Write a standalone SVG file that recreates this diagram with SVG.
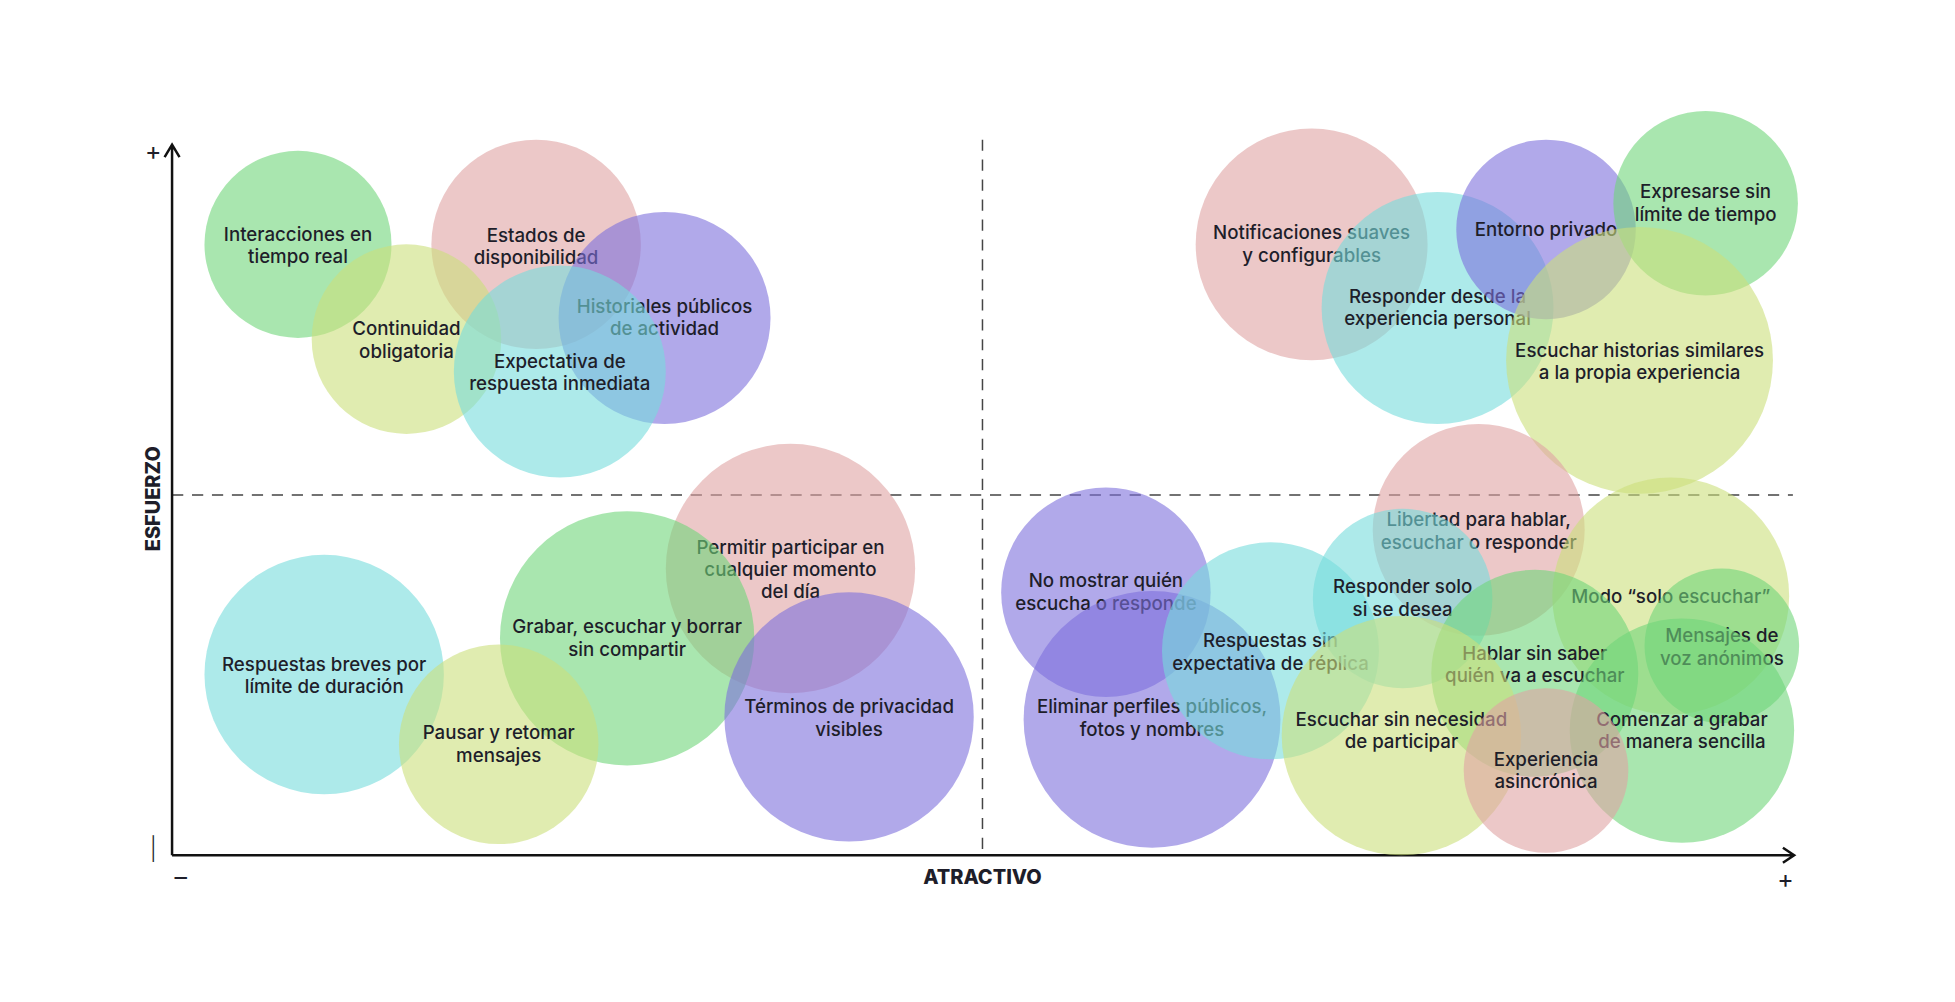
<svg xmlns="http://www.w3.org/2000/svg" width="1955" height="1002" viewBox="0 0 1955 1002">
<style>
.g{fill:#6fd67a}.p{fill:#e0a4a4}.v{fill:#7d70dc}.c{fill:#77dcdc}.y{fill:#cbdf7c}
circle{fill-opacity:0.6}
text{font-family:Inter,"Noto Sans",sans-serif;font-size:15px;font-weight:500;fill:#1e1e2a;text-anchor:middle}
.ax{stroke:#111;stroke-width:2;fill:none}
.d{stroke:#444;stroke-width:1.2;stroke-dasharray:9 7;fill:none}
.b{font-weight:800;font-size:16px}
</style>
<rect width="1955" height="1002" fill="#fff"/>
<g transform="scale(1.2468)">
<g id="axes">
<line class="d" x1="788" y1="112" x2="788" y2="686"/>
<line class="d" x1="138" y1="397" x2="1438" y2="397"/>
<path class="ax" d="M138 686V117M132 126L138 116L144 126M138 686H1438M1430 680L1439 686L1430 692"/>
<text x="123" y="128" style="font-size:20px;font-weight:400">+</text>
<text x="123" y="687" style="font-size:18px;font-weight:300">|</text>
<text x="145" y="711" style="font-size:20px;font-weight:400">–</text>
<text x="1432" y="712" style="font-size:20px;font-weight:400">+</text>
<text class="b" x="788" y="709">ATRACTIVO</text>
<text class="b" transform="translate(128,400) rotate(-90)">ESFUERZO</text>
</g>
<g id="n1"><circle class="g" cx="239" cy="196" r="75"/><text x="239" y="193">Interacciones en</text><text x="239" y="211">tiempo real</text></g>
<g id="n2"><circle class="p" cx="430" cy="196" r="84"/><text x="430" y="194">Estados de</text><text x="430" y="212">disponibilidad</text></g>
<g id="n3"><circle class="y" cx="326" cy="272" r="76"/><text x="326" y="269">Continuidad</text><text x="326" y="287">obligatoria</text></g>
<g id="n4"><circle class="v" cx="533" cy="255" r="85"/><text x="533" y="251">Historiales públicos</text><text x="533" y="269">de actividad</text></g>
<g id="n5"><circle class="c" cx="449" cy="298" r="85"/><text x="449" y="295">Expectativa de</text><text x="449" y="313">respuesta inmediata</text></g>
<g id="n6"><circle class="p" cx="1052" cy="196" r="93"/><text x="1052" y="192">Notificaciones suaves</text><text x="1052" y="210">y configurables</text></g>
<g id="n7"><circle class="c" cx="1153" cy="247" r="93"/><text x="1153" y="243">Responder desde la</text><text x="1153" y="261">experiencia personal</text></g>
<g id="n8"><circle class="v" cx="1240" cy="184" r="72"/><text x="1240" y="189">Entorno privado</text></g>
<g id="n9"><circle class="g" cx="1368" cy="163" r="74"/><text x="1368" y="159">Expresarse sin</text><text x="1368" y="177">límite de tiempo</text></g>
<g id="n10"><circle class="y" cx="1315" cy="289" r="107"/><text x="1315" y="286">Escuchar historias similares</text><text x="1315" y="304">a la propia experiencia</text></g>
<g id="n11"><circle class="p" cx="634" cy="456" r="100"/><text x="634" y="444">Permitir participar en</text><text x="634" y="462">cualquier momento</text><text x="634" y="480">del día</text></g>
<g id="n12"><circle class="g" cx="503" cy="512" r="102"/><text x="503" y="508">Grabar, escuchar y borrar</text><text x="503" y="526">sin compartir</text></g>
<g id="n13"><circle class="c" cx="260" cy="541" r="96"/><text x="260" y="538">Respuestas breves por</text><text x="260" y="556">límite de duración</text></g>
<g id="n14"><circle class="y" cx="400" cy="597" r="80"/><text x="400" y="593">Pausar y retomar</text><text x="400" y="611">mensajes</text></g>
<g id="n15"><circle class="v" cx="681" cy="575" r="100"/><text x="681" y="572">Términos de privacidad</text><text x="681" y="590">visibles</text></g>
<g id="n16"><circle class="v" cx="887" cy="475" r="84"/><text x="887" y="471">No mostrar quién</text><text x="887" y="489">escucha o responde</text></g>
<g id="n17"><circle class="v" cx="924" cy="577" r="103"/><text x="924" y="572">Eliminar perfiles públicos,</text><text x="924" y="590">fotos y nombres</text></g>
<g id="n18"><circle class="c" cx="1019" cy="522" r="87"/><text x="1019" y="519">Respuestas sin</text><text x="1019" y="537">expectativa de réplica</text></g>
<g id="n19"><circle class="p" cx="1186" cy="425" r="85"/><text x="1186" y="422">Libertad para hablar,</text><text x="1186" y="440">escuchar o responder</text></g>
<g id="n20"><circle class="c" cx="1125" cy="480" r="72"/><text x="1125" y="476">Responder solo</text><text x="1125" y="494">si se desea</text></g>
<g id="n21"><circle class="y" cx="1340" cy="478" r="95"/><text x="1340" y="484">Modo “solo escuchar”</text></g>
<g id="n22"><circle class="g" cx="1231" cy="540" r="83"/><text x="1231" y="529">Hablar sin saber</text><text x="1231" y="547">quién va a escuchar</text></g>
<g id="n23"><circle class="g" cx="1381" cy="518" r="62"/><text x="1381" y="515">Mensajes de</text><text x="1381" y="533">voz anónimos</text></g>
<g id="n24"><circle class="y" cx="1124" cy="590" r="96"/><text x="1124" y="582">Escuchar sin necesidad</text><text x="1124" y="600">de participar</text></g>
<g id="n25"><circle class="g" cx="1349" cy="586" r="90"/><text x="1349" y="582">Comenzar a grabar</text><text x="1349" y="600">de manera sencilla</text></g>
<g id="n26"><circle class="p" cx="1240" cy="618" r="66"/><text x="1240" y="614">Experiencia</text><text x="1240" y="632">asincrónica</text></g>
<g id="connectors"></g>
</g>
</svg>
